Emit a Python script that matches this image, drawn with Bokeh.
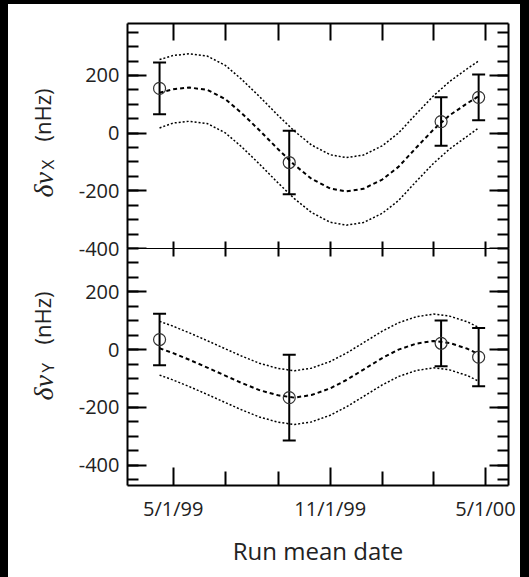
import numpy as np
import pandas as pd
from bokeh.plotting import figure
from bokeh.models import (Range1d, FixedTicker, SingleIntervalTicker, LinearAxis,
                          Whisker, TeeHead, ColumnDataSource, CustomJSTickFormatter)
from bokeh.core.properties import value
from bokeh.layouts import column, row
from bokeh.embed import file_html
from bokeh.resources import INLINE

# ---------------- data ----------------
run_dates = ["1999-04-15", "1999-09-14", "2000-03-10", "2000-04-23"]
dnu_x = [155, -102, 40, 124]
err_x = [90, 110, 84, 79]
dnu_y = [35, -166, 22, -26]
err_y = [89, 148, 79, 101]

fit_dates = ["1999-04-15", "1999-05-01", "1999-05-20", "1999-06-10", "1999-07-01",
             "1999-07-20", "1999-08-10", "1999-09-01", "1999-09-20", "1999-10-10",
             "1999-11-01", "1999-11-20", "1999-12-10", "2000-01-01", "2000-01-20",
             "2000-02-10", "2000-03-01", "2000-03-20", "2000-04-10", "2000-04-23"]
fit_x_mid = [140, 152, 158, 150, 118, 70, 10, -56, -110, -158,
             -192, -202, -193, -161, -117, -50, 12, 62, 104, 128]
fit_x_up = [255, 269, 275, 267, 235, 187, 127, 61, 7, -41,
            -75, -85, -76, -44, 0, 67, 129, 179, 224, 250]
fit_x_lo = [18, 35, 41, 33, 1, -47, -107, -173, -227, -275,
            -309, -319, -310, -278, -234, -167, -105, -55, -10, 18]
fit_y_mid = [5, -12, -35, -62, -90, -115, -140, -158, -166, -157,
             -134, -105, -69, -29, 0, 21, 30, 23, 3, -16]
fit_y_up = [98, 81, 58, 31, 3, -22, -47, -65, -73, -64,
            -41, -12, 24, 64, 93, 114, 123, 116, 96, 77]
fit_y_lo = [-88, -105, -128, -155, -183, -208, -233, -251, -259, -250,
            -227, -198, -162, -122, -93, -72, -63, -70, -90, -109]

major_tick_dates = ["1999-05-01", "1999-11-01", "2000-05-01"]
minor_tick_dates = ["1999-07-01", "1999-09-01", "2000-01-01", "2000-03-01"]
x_start_date = "1999-03-08 10:00"
x_end_date = "2000-05-28"

ylabel_parts = ["δν", "X", "(nHz)", "δν", "Y", "(nHz)"]
xlabel_text = "Run mean date"


def ms(dates):
    return [pd.Timestamp(d).value / 1e6 for d in dates]


FONT = "Open Sans"
TXT = "#222222"

t_run = ms(run_dates)
t_fit = ms(fit_dates)
maj_t = ms(major_tick_dates)
min_t = ms(minor_tick_dates)
all_t = sorted(maj_t + min_t)
x0 = ms([x_start_date])[0]
x1 = ms([x_end_date])[0]

x_range = Range1d(start=x0, end=x1)

date_fmt = CustomJSTickFormatter(code="""
const d = new Date(tick);
return (d.getUTCMonth()+1) + "/" + d.getUTCDate() + "/" + String(d.getUTCFullYear()).slice(2);
""")
num_fmt = CustomJSTickFormatter(code="return String(Math.round(tick));")


def style_axis(ax, tick_in, minor_in, line_w=2, labels=False):
    ax.axis_line_color = "black"
    ax.axis_line_width = line_w
    ax.major_tick_line_color = "black"
    ax.major_tick_line_width = 2
    ax.minor_tick_line_color = "black"
    ax.minor_tick_line_width = 2
    ax.major_tick_in = tick_in
    ax.major_tick_out = 0
    ax.minor_tick_in = minor_in
    ax.minor_tick_out = 0
    if labels:
        ax.major_label_text_font = FONT
        ax.major_label_text_font_size = "20px"
        ax.major_label_text_color = TXT
    else:
        ax.major_label_text_font_size = "0px"
        ax.major_label_standoff = 0


def tick_only_axis(tick_len, line_w):
    # ticks only (drawn as minor ticks, so no labels are produced)
    ax = LinearAxis(ticker=FixedTicker(ticks=[], minor_ticks=all_t))
    style_axis(ax, tick_len, tick_len, line_w=line_w)
    return ax


def make_fig(height, y0, y1, border_top, border_bottom, **kw):
    p = figure(width=452, height=height, x_range=x_range, y_range=Range1d(y0, y1),
               output_backend="svg", toolbar_location=None,
               x_axis_location=None, y_axis_location=None,
               min_border_left=59, min_border_right=12,
               min_border_top=border_top, min_border_bottom=border_bottom, **kw)
    p.outline_line_color = None
    p.xgrid.visible = False
    p.ygrid.visible = False
    p.background_fill_color = "white"
    p.border_fill_color = "white"
    yl = LinearAxis(ticker=SingleIntervalTicker(interval=200, num_minor_ticks=4),
                    formatter=num_fmt)
    style_axis(yl, 19, 11, labels=True)
    yl.major_label_standoff = 8
    p.add_layout(yl, "left")
    yr = LinearAxis(ticker=SingleIntervalTicker(interval=200, num_minor_ticks=4))
    style_axis(yr, 19, 11)
    p.add_layout(yr, "right")
    return p


def add_data(p, mid, up, lo, vals, errs):
    fsrc = ColumnDataSource(dict(t=t_fit, mid=mid, up=up, lo=lo))
    p.line("t", "up", source=fsrc, line_color="black", line_width=1.5, line_dash="2 2")
    p.line("t", "lo", source=fsrc, line_color="black", line_width=1.5, line_dash="2 2")
    p.line("t", "mid", source=fsrc, line_color="black", line_width=2, line_dash="4 3")
    v = np.array(vals, dtype=float)
    e = np.array(errs, dtype=float)
    psrc = ColumnDataSource(dict(t=t_run, v=v, hi=v + e, lo=v - e))
    p.add_layout(Whisker(base="t", upper="hi", lower="lo", source=psrc, dimension="height",
                         line_color="black", line_width=2,
                         upper_head=TeeHead(size=13, line_width=2, line_color="black"),
                         lower_head=TeeHead(size=13, line_width=2, line_color="black")))
    p.scatter("t", "v", source=psrc, marker="circle", size=12, fill_color=None,
              line_color="#333333", line_width=1.2)


# ---------------- top panel ----------------
top = make_fig(258, -400, 380, 19, 14)
top.add_layout(tick_only_axis(17, 2), "above")
top.add_layout(tick_only_axis(7, 1), "below")
add_data(top, fit_x_mid, fit_x_up, fit_x_lo, dnu_x, err_x)

# ---------------- bottom panel ----------------
bot = make_fig(329, -470, 350, 0, 92, margin=(-14, 0, 0, 0))
bot.border_fill_alpha = 0
bot.add_layout(tick_only_axis(8, 1), "above")
bb = LinearAxis(ticker=FixedTicker(ticks=maj_t, minor_ticks=min_t), formatter=date_fmt)
style_axis(bb, 18, 14, labels=True)
bb.major_label_standoff = 9
bb.axis_label = xlabel_text
bb.axis_label_text_font = FONT
bb.axis_label_text_font_size = "24px"
bb.axis_label_text_font_style = "normal"
bb.axis_label_text_color = TXT
bb.axis_label_standoff = 9
bot.add_layout(bb, "below")
add_data(bot, fit_y_mid, fit_y_up, fit_y_lo, dnu_y, err_y)

# ---------------- y-axis titles (rotated, with subscripts) ----------------
lab = figure(width=60, height=573, x_range=Range1d(0, 60), y_range=Range1d(0, 573),
             output_backend="svg", toolbar_location=None,
             x_axis_location=None, y_axis_location=None, min_border=0)
lab.outline_line_color = None
lab.xgrid.visible = False
lab.ygrid.visible = False
lab.background_fill_color = "white"
lab.border_fill_color = "white"
ang = np.pi / 2
# Greek symbol (serif italic)
lab.text(x=[35, 35], y=[380, 177], text=[ylabel_parts[0], ylabel_parts[3]], angle=ang,
         text_font=value("Liberation Serif"), text_font_style="italic",
         text_font_size="28px", text_color=TXT, text_align="left",
         text_baseline="alphabetic")
# subscripts
lab.text(x=[39, 39], y=[408, 205], text=[ylabel_parts[1], ylabel_parts[4]], angle=ang,
         text_font=value(FONT), text_font_size="17px", text_color=TXT,
         text_align="left", text_baseline="alphabetic")
# units
lab.text(x=[33, 33], y=[436, 233], text=[ylabel_parts[2], ylabel_parts[5]], angle=ang,
         text_font=value(FONT), text_font_size="22px", text_color=TXT,
         text_align="left", text_baseline="alphabetic")

plots = column(top, bot, styles={"background-color": "white"})
layout = row(lab, plots, styles={"background-color": "white"})
html = file_html(layout, INLINE)
css = ("<style>html, body {background-color:#000000 !important;} "
       "body {padding: 4px 0 0 8px !important;}</style></head>")
html = html.replace("</head>", css, 1)
open("out.html", "w").write(html)
